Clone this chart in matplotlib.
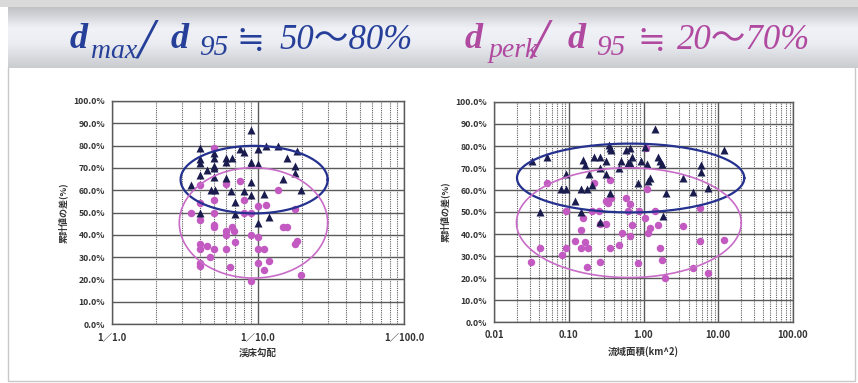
import numpy as np
import matplotlib.pyplot as plt
from matplotlib.ticker import FixedLocator, NullFormatter, LogLocator

# ---------------------------------------------------------------------------
# Data: bed slope (1/n) and catchment area vs. difference of cumulative values
# ---------------------------------------------------------------------------
slope_max_n = [3.47, 4, 4, 4, 4, 4, 4.5, 5, 5, 5, 5, 5, 4.8, 5.1, 6, 6, 6, 6.6, 6.5,
               7, 7, 7.5, 8, 8, 9, 9, 9, 9, 9, 10, 10, 10, 11, 11.4, 13.8, 11.9,
               14.8, 15.9, 17.9, 17.9, 18.6, 19.8]
slope_max_pct = [62.4, 78.8, 74.0, 72.0, 66.6, 49.7, 69.1, 76.6, 74.3, 70.9, 69.8, 66.1,
                 60.1, 60.1, 74.6, 72.8, 65.4, 74.6, 59.7, 54.6, 49.4, 78.4, 77.3, 59.7,
                 87.0, 72.8, 71.8, 63.9, 57.9, 78.4, 71.8, 45.2, 58.2, 79.9, 79.9, 47.8,
                 64.9, 74.6, 70.7, 67.6, 77.6, 60.1]

slope_perk_n = [3.46, 4, 4, 4, 4, 4, 4, 4, 4.45, 5, 5, 5, 5, 5, 5, 4.7, 6, 6, 6, 6, 6.4,
                6.6, 6.9, 7, 7.5, 8, 8, 9, 9, 9, 10, 10, 10, 10, 11, 11, 11.4, 11.9,
                13.8, 14.8, 15.9, 17.9, 17.9, 18.6, 19.8]
slope_perk_pct = [50.0, 62.4, 54.2, 46.7, 35.8, 33.7, 27.3, 26.1, 34.8, 78.8, 55.7, 50.0,
                  44.2, 43.3, 33.6, 30.0, 62.8, 41.9, 40.0, 33.6, 25.4, 43.7, 41.9, 36.6,
                  64.3, 55.7, 50.0, 50.0, 40.0, 19.4, 52.7, 38.8, 33.6, 27.3, 33.6, 24.3,
                  53.4, 28.4, 59.9, 43.7, 43.7, 51.6, 35.8, 37.0, 22.1]

area_max_km2 = [0.032, 0.0514, 0.0418, 0.093, 0.079, 0.093, 0.123, 0.144, 0.144, 0.156,
                0.164, 0.173, 0.186, 0.217, 0.207, 0.261, 0.261, 0.311, 0.311, 0.261,
                0.348, 0.355, 0.37, 0.355, 0.464, 0.50, 0.577, 0.62, 0.67, 0.70, 0.66,
                0.853, 0.916, 1.047, 1.1, 1.16, 1.24, 1.43, 1.58, 1.67, 1.75, 1.8, 1.98,
                3.42, 4.66, 5.84, 5.84, 7.4, 11.8]
area_max_pct = [73.1, 75.1, 50.2, 67.1, 60.3, 60.3, 55.0, 50.2, 60.3, 73.6, 71.3, 60.3,
                67.1, 75.1, 62.2, 75.1, 70.1, 73.1, 67.1, 45.6, 80.4, 78.9, 78.1, 58.5,
                69.8, 73.1, 78.1, 72.1, 79.2, 75.1, 72.4, 63.3, 73.1, 79.6, 71.6, 64.0,
                65.3, 87.5, 75.1, 73.1, 71.6, 48.3, 58.5, 65.3, 58.9, 71.3, 68.3, 60.7,
                78.1]

area_perk_km2 = [0.031, 0.041, 0.0514, 0.080, 0.093, 0.093, 0.12, 0.144, 0.144, 0.153,
                 0.164, 0.173, 0.182, 0.207, 0.217, 0.256, 0.261, 0.261, 0.311, 0.311,
                 0.34, 0.355, 0.355, 0.37, 0.464, 0.51, 0.577, 0.62, 0.66, 0.66, 0.71,
                 0.853, 0.88, 1.047, 1.07, 1.1, 1.16, 1.24, 1.43, 1.58, 1.67, 1.75, 1.94,
                 3.42, 4.66, 5.75, 5.75, 7.4, 11.8]
area_perk_pct = [27.5, 33.5, 63.3, 30.5, 50.5, 33.5, 36.6, 41.8, 33.5, 47.1, 36.3, 25.2,
                 33.8, 50.5, 63.0, 50.5, 44.4, 27.5, 44.4, 55.0, 53.9, 64.5, 33.5, 56.2,
                 35.0, 40.3, 56.2, 50.5, 53.5, 39.3, 44.1, 26.7, 50.5, 47.4, 79.2, 60.4,
                 40.6, 42.6, 50.5, 44.1, 33.5, 28.2, 19.9, 43.8, 24.5, 36.6, 52.0, 22.2,
                 37.3]

# ellipse extents (x range, y range) enclosing each group
slope_max_ell = ((2.95, 30.0), (49.6, 79.9))
slope_perk_ell = ((2.89, 30.0), (20.6, 70.1))
area_max_ell = ((0.0203, 22.3), (49.8, 81.1))
area_perk_ell = ((0.0200, 20.3), (20.2, 70.1))

slope_ticks = [1, 10, 100]
slope_labels = ["1／1.0", "1／10.0", "1／100.0"]
area_ticks = [0.01, 0.1, 1, 10, 100]
area_labels = ["0.01", "0.10", "1.00", "10.00", "100.00"]
pct_ticks = list(range(0, 101, 10))

NAVY = "#1b1c4e"
ORCHID = "#c25ac2"
BLUE_RING = "#25318f"
PINK_RING = "#c86cc8"
GRID = "#5a5a5a"
JP = ["Noto Sans CJK JP", "DejaVu Sans"]

W, H = 858, 383


def px(x, y):
    return x / W, 1 - y / H


def log_ellipse(ax, xr, yr, color, lw):
    lx = np.log10(xr)
    cx, rx = lx.mean(), (lx[1] - lx[0]) / 2
    cy, ry = np.mean(yr), (yr[1] - yr[0]) / 2
    t = np.linspace(0, 2 * np.pi, 300)
    ax.plot(10 ** (cx + rx * np.cos(t)), cy + ry * np.sin(t), color=color, lw=lw, zorder=5)


def draw_panel(ax, xlim, xticks, xlabels, xlabel, tri, dots, ell_max, ell_perk):
    ax.set_xscale("log")
    ax.set_xlim(*xlim)
    ax.set_ylim(0, 100)

    ax.plot(dots[0], dots[1], "o", ms=5.4, color=ORCHID, mec="none", zorder=3)
    ax.plot(tri[0], tri[1], "^", ms=5.8, color=NAVY, mec="none", zorder=4)
    log_ellipse(ax, *ell_max, BLUE_RING, 1.6)
    log_ellipse(ax, *ell_perk, PINK_RING, 1.2)

    ax.xaxis.set_major_locator(FixedLocator(xticks))
    ax.set_xticklabels(xlabels, fontsize=6.8, family=JP, color="#333333", weight="bold")
    ax.xaxis.set_minor_locator(LogLocator(base=10, subs=np.arange(2, 10)))
    ax.xaxis.set_minor_formatter(NullFormatter())
    ax.yaxis.set_major_locator(FixedLocator(pct_ticks))
    ax.set_yticklabels([f"{v:.1f}%" for v in pct_ticks], fontsize=6.2, family=JP,
                       color="#333333", weight="bold")
    ax.tick_params(which="both", length=0)
    ax.tick_params(axis="x", pad=6)
    ax.tick_params(axis="y", pad=5)

    ax.grid(True, which="major", color=GRID, lw=1.0, zorder=1)
    ax.grid(True, which="minor", axis="x", color="#606060", lw=0.8,
            linestyle=(0, (1, 1)), zorder=1)
    ax.set_axisbelow(True)
    for s in ax.spines.values():
        s.set_color(GRID)
        s.set_linewidth(1.0)

    ax.set_xlabel(xlabel, fontsize=6.8, family=JP, color="#333333", weight="bold", labelpad=4)
    ax.set_ylabel("累計値の差(%)", fontsize=6.5, family=JP, color="#333333",
                  weight="bold", labelpad=4)


fig = plt.figure(figsize=(W / 100, H / 100), dpi=100)
fig.patch.set_facecolor("white")

# background: top strip, silver title band and panel frame
bg = fig.add_axes([0, 0, 1, 1], zorder=-10)
bg.set_xlim(0, W)
bg.set_ylim(H, 0)
bg.axis("off")
bg.add_patch(plt.Rectangle((0, 0), W, 7, color="#dadada", lw=0))
grad = np.interp(np.linspace(0, 1, 64), [0, 0.35, 0.6, 1], [0.76, 0.95, 0.93, 0.80])
band = np.dstack([grad * 0.99, grad * 1.0, grad * 1.02]).clip(0, 1)
band = np.repeat(band.reshape(64, 1, 3), 2, axis=1)
bg.imshow(band, extent=(8, W, 68, 7), aspect="auto", interpolation="bicubic")
bg.plot([8, 8, 855, 855], [68, 381, 381, 68], color="#c8c8c8", lw=1.0)

# title: d_max / d_95 and d_perk / d_95 ranges
serif = ["Liberation Serif", "Noto Sans CJK JP", "DejaVu Serif"]
blue_t, pink_t = "#26409a", "#b04aa0"
blue_parts = [
    # text, left x, baseline y, size, weight
    ("d", 70, 48, 26, "bold"), ("max", 91, 58, 20, "normal"),
    ("/", 138, 58, 42, "normal"), ("d", 171, 48, 26, "bold"),
    ("95", 199, 55, 21, "normal"), ("≒", 236, 50, 24, "normal"),
    ("50～80%", 279, 49, 25, "normal"),
]
pink_parts = [
    ("d", 465, 48, 26, "bold"), ("perk", 489, 57, 20, "normal"),
    ("/", 532, 58, 42, "normal"), ("d", 568, 48, 26, "bold"),
    ("95", 596, 55, 21, "normal"), ("≒", 637, 50, 24, "normal"),
    ("20～70%", 677, 49, 25, "normal"),
]
for parts, c in [(blue_parts, blue_t), (pink_parts, pink_t)]:
    for s, x, y, size, weight in parts:
        fig.text(*px(x, y), s, fontsize=size, family=serif, style="italic",
                 weight=weight, color=c, ha="left", va="baseline")

ax1 = fig.add_axes([112 / W, 1 - 324 / H, 292 / W, 223 / H])
draw_panel(ax1, (1, 100), slope_ticks, slope_labels, "渓床勾配",
           (slope_max_n, slope_max_pct), (slope_perk_n, slope_perk_pct),
           slope_max_ell, slope_perk_ell)

ax2 = fig.add_axes([494 / W, 1 - 322 / H, 299 / W, 220 / H])
draw_panel(ax2, (0.01, 100), area_ticks, area_labels, "流域面積(km^2)",
           (area_max_km2, area_max_pct), (area_perk_km2, area_perk_pct),
           area_max_ell, area_perk_ell)

fig.savefig("out.png", dpi=100)
